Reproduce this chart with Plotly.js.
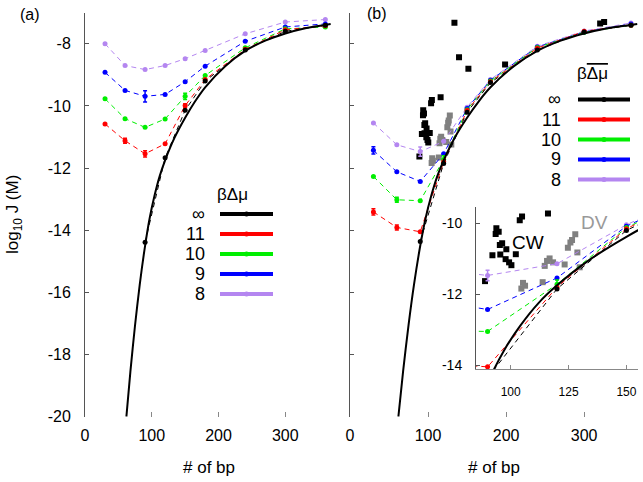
<!DOCTYPE html>
<html>
<head>
<meta charset="utf-8">
<script src="https://cdn.plot.ly/plotly-3.0.1.min.js"></script>
<style>
  html, body { margin: 0; padding: 0; background: #fff; }
  #chart { width: 643px; height: 482px; }
</style>
</head>
<body>
<div id="chart"></div>
<script>
// number of base pairs for the simulated series
var bp = [30, 60, 90, 120, 150, 180, 240, 300, 360];
var bpInf = [90, 120, 150, 180, 240, 300, 360];

// panel (a): log10 J for each beta*dmu
var aInf = [-14.39, -11.67, -10.14, -9.20, -8.20, -7.60, -7.40];
var a11 = [-10.58, -11.12, -11.54, -11.22, -9.99, -9.15, -8.18, -7.55, -7.42];
var a10 = [-9.77, -10.41, -10.69, -10.42, -9.69, -9.02, -8.13, -7.52, -7.46];
var a9 = [-8.92, -9.50, -9.69, -9.63, -9.22, -8.72, -7.92, -7.46, -7.36];
var a8 = [-8.00, -8.70, -8.83, -8.70, -8.48, -8.22, -7.68, -7.30, -7.22];
var a11err = [0, 0.08, 0.1, 0, 0.06, 0, 0, 0, 0];
var a10err = [0, 0, 0, 0, 0.1, 0, 0, 0, 0];
var a9err = [0, 0, 0.18, 0, 0, 0, 0, 0, 0];

// panel (b)
var bInf = [-14.36, -11.85, -10.20, -9.25, -8.20, -7.62, -7.40];
var b11 = [-13.41, -13.91, -14.05, -11.80, -10.15, -9.22, -8.14, -7.60, -7.40];
var b10 = [-12.27, -13.02, -13.05, -11.72, -10.12, -9.20, -8.12, -7.63, -7.40];
var b9 = [-11.43, -12.12, -12.43, -11.54, -10.08, -9.17, -8.10, -7.62, -7.36];
var b8 = [-10.55, -11.25, -11.47, -11.14, -10.04, -9.15, -8.08, -7.59, -7.33];
var b11err = [0.1, 0.08, 0, 0, 0, 0, 0, 0, 0];
var b10err = [0, 0.08, 0, 0.12, 0, 0, 0, 0, 0];
var b9err = [0.12, 0, 0, 0, 0, 0, 0, 0, 0];
var b8err = [0, 0, 0.15, 0, 0, 0, 0, 0, 0];

// infinite-driving theory curve
var fitX = [62, 68, 75, 82, 90, 97, 104, 112, 120, 134, 150, 165, 180, 210, 240, 270, 300, 330, 368];
var fitY = [-20, -18.55, -17.05, -15.75, -14.5, -13.6, -12.9, -12.25, -11.75, -11.03, -10.38, -9.85, -9.4, -8.72, -8.23, -7.9, -7.67, -7.5, -7.36];

// experimental points
var cwX = [88.9, 92.1, 93.8, 94.8, 93.5, 95.3, 96.3, 95.5, 98.1, 97.8, 99.3, 100.3, 102.2, 103.9, 104.9, 116.1, 133.8, 139.7, 151.7, 198.7, 320.5, 325.6];
var cwY = [-11.63, -10.90, -10.14, -10.24, -10.30, -10.61, -10.56, -10.88, -10.73, -11.01, -11.10, -11.18, -10.87, -9.91, -9.81, -9.72, -7.32, -8.43, -8.80, -8.67, -7.35, -7.30];
var dvX = [104.6, 105.3, 106.2, 113.8, 114.7, 115.7, 116.8, 118.3, 123.3, 124.7, 125.8, 126.5, 127.9, 128.8, 129.8];
var dvY = [-11.84, -11.68, -11.76, -11.66, -11.20, -11.06, -10.99, -11.10, -11.16, -10.69, -10.54, -10.47, -10.31, -10.82, -11.24];

var legendLabels = ['\u221e', '11', '10', '9', '8'];
var colors = ['#000000', '#ff0000', '#00ee00', '#0000ff', '#b486f0'];

var W = 643, H = 482;
function px(x) { return x / W; }
function py(y) { return 1 - y / H; }

function series(x, y, err, color, xa, ya) {
  var t = {
    x: x, y: y, xaxis: xa, yaxis: ya, type: 'scatter', mode: 'lines+markers',
    line: {color: color, width: 1, dash: '5px,4px'},
    marker: {color: color, size: 5},
    showlegend: false, hoverinfo: 'skip'
  };
  if (err) t.error_y = {type: 'data', array: err, color: color, thickness: 1.5, width: 2};
  return t;
}
function fit(xa, ya) {
  return {x: fitX, y: fitY, xaxis: xa, yaxis: ya, type: 'scatter', mode: 'lines',
    line: {color: '#000', width: 2, shape: 'spline', smoothing: 0.8}, showlegend: false, hoverinfo: 'skip'};
}
function squares(x, y, color, xa, ya) {
  return {x: x, y: y, xaxis: xa, yaxis: ya, type: 'scatter', mode: 'markers',
    marker: {symbol: 'square', color: color, size: 6}, showlegend: false, hoverinfo: 'skip'};
}

var data = [];
// panel (a)
data.push(series(bp, a8, null, colors[4], 'x', 'y'));
data.push(series(bp, a9, a9err, colors[3], 'x', 'y'));
data.push(series(bp, a10, a10err, colors[2], 'x', 'y'));
data.push(series(bp, a11, a11err, colors[1], 'x', 'y'));
data.push(series(bpInf, aInf, null, colors[0], 'x', 'y'));
data.push(fit('x', 'y'));
// panel (b) and inset
['2', '3'].forEach(function (k) {
  var xa = 'x' + k, ya = 'y' + k;
  data.push(squares(cwX, cwY, '#000', xa, ya));
  data.push(squares(dvX, dvY, '#808080', xa, ya));
  data.push(series(bp, b8, b8err, colors[4], xa, ya));
  data.push(series(bp, b9, b9err, colors[3], xa, ya));
  data.push(series(bp, b10, b10err, colors[2], xa, ya));
  data.push(series(bp, b11, b11err, colors[1], xa, ya));
  data.push(series(bpInf, bInf, null, colors[0], xa, ya));
  data.push(fit(xa, ya));
});

var font = {family: 'Liberation Sans, Arial, sans-serif', size: 16, color: '#000'};
var yDom = [py(416.7), py(12.7)];
var yTicks = [-8, -10, -12, -14, -16, -18, -20];
var yText = ['-8', '-10', '-12', '-14', '-16', '-18', '-20'];

function xaxis(domain, range, anchor, vals, size) {
  return {domain: domain, range: range, anchor: anchor, showline: false, showgrid: false,
    zeroline: false, ticks: 'inside', ticklen: 5, tickcolor: '#888', tickvals: vals,
    tickfont: {size: size}, ticklabelstandoff: 7};
}

var annotations = [
  {text: '(a)', x: px(30), y: py(14)},
  {text: '(b)', x: px(377), y: py(13)},
  {text: 'log<sub>10</sub> J (M)', x: px(14), y: py(215), textangle: -90, font: {size: 17}},
  {text: '# of bp', x: px(208.5), y: py(467), font: {size: 17}},
  {text: '# of bp', x: px(494), y: py(467), font: {size: 17}},
  {text: 'CW', x: px(527.5), y: py(242), font: {size: 19}},
  {text: 'DV', x: px(594), y: py(222.5), font: {size: 19, color: '#999'}},
  {text: '\u03b2\u0394\u03bc', x: px(232), y: py(194), font: {size: 17}},
  {text: '\u03b2<span style="text-decoration:overline">\u0394\u03bc</span>', x: px(592), y: py(73), font: {size: 17}}
];
var shapes = [];
function legend(labelRight, x0, x1, y0) {
  legendLabels.forEach(function (lab, i) {
    var y = y0 + i * 20;
    annotations.push({text: lab, x: px(labelRight), y: py(y), xanchor: 'right', font: {size: 18}});
    shapes.push({type: 'line', xref: 'paper', yref: 'paper', x0: px(x0), x1: px(x1), y0: py(y), y1: py(y),
      line: {color: colors[i], width: 4}});
    var m = (x0 + x1) / 2;
    shapes.push({type: 'circle', xref: 'paper', yref: 'paper', x0: px(m - 2.5), x1: px(m + 2.5),
      y0: py(y + 2.5), y1: py(y - 2.5), fillcolor: colors[i], line: {width: 0}});
  });
}
legend(207, 220, 273, 214);
legend(563, 578, 630, 99.5);
annotations.forEach(function (a) {
  a.xref = 'paper'; a.yref = 'paper'; a.showarrow = false;
  if (!a.xanchor) a.xanchor = 'center';
  a.yanchor = 'middle';
});

var layout = {
  width: W, height: H,
  margin: {l: 0, r: 0, t: 0, b: 0},
  paper_bgcolor: '#fff', plot_bgcolor: '#fff',
  font: font,
  showlegend: false,
  xaxis: xaxis([px(85), px(332)], [0, 370], 'y', [0, 100, 200, 300], 16),
  yaxis: {domain: yDom, range: [-20, -7], anchor: 'x', showline: true, linecolor: '#555',
    showgrid: false, zeroline: false, ticks: 'inside', ticklen: 4, tickcolor: '#555',
    tickvals: yTicks, ticktext: yText, ticklabelstandoff: 10},
  xaxis2: xaxis([px(350), px(638)], [0, 369], 'y2', [0, 100, 200, 300], 16),
  yaxis2: {domain: yDom, range: [-20, -7], anchor: 'x2', showline: true, linecolor: '#555',
    showgrid: false, zeroline: false, ticks: 'inside', ticklen: 4, tickcolor: '#555',
    tickvals: yTicks, showticklabels: false},
  xaxis3: {domain: [px(476), px(638)], range: [85, 155], anchor: 'y3', showline: true,
    linecolor: '#888', showgrid: false, zeroline: false, ticks: 'inside', ticklen: 4,
    tickcolor: '#888', tickvals: [100, 125, 150], tickfont: {size: 12}, ticklabelstandoff: 12},
  yaxis3: {domain: [py(369), py(206.7)], range: [-14.11, -9.53], anchor: 'x3', showline: true,
    linecolor: '#555', showgrid: false, zeroline: false, ticks: 'inside', ticklen: 4,
    tickcolor: '#555', tickvals: [-10, -12, -14], ticktext: ['-10', '-12', '-14'],
    tickfont: {size: 14}, ticklabelstandoff: 10},
  annotations: annotations,
  shapes: shapes
};

Plotly.newPlot('chart', data, layout, {staticPlot: true});
</script>
</body>
</html>
